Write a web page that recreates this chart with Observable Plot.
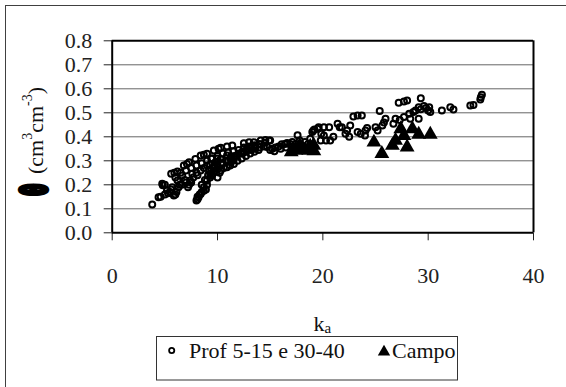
<!DOCTYPE html>
<html>
<head>
<meta charset="utf-8">
<script src="https://cdn.jsdelivr.net/npm/d3@7"></script>
<script src="https://cdn.jsdelivr.net/npm/@observablehq/plot@0.6"></script>
<style>
  html, body { margin: 0; padding: 0; background: white; }
  #chart { width: 566px; height: 387px; }
</style>
</head>
<body>
<div id="chart"></div>
<script>
// Series "Prof 5-15 e 30-40" (open circles): ka and theta values
const profK = [
  3.8, 4.4, 4.6, 4.75, 4.8, 5.0, 5.6, 5.9, 6.2, 6.8, 7.1, 7.3, 7.9, 8.4, 8.7, 9.0, 9.65, 10.1, 10.3, 10.9, 11.4, 12.5, 13.0, 13.45, 14.1, 14.55, 14.9, 14.7,
  5.2, 5.5, 5.7, 5.85, 6.0, 6.2, 6.4, 6.65, 6.9, 7.2, 7.4, 7.6, 7.5, 8.0, 8.4, 8.7, 9.0, 9.3, 9.8, 10.3, 10.9, 11.3, 11.55, 11.8, 12.2, 12.5, 12.8, 13.2, 13.6, 14.0, 14.4,
  8.0, 8.1, 8.2, 8.3, 8.4, 8.7, 8.7, 9.0, 9.0, 9.3, 9.3, 9.65, 9.65, 10.0, 10.3, 10.6, 10.9, 11.2, 11.55, 11.9, 12.3, 12.7, 13.1, 13.5, 13.9,
  8.1, 8.5, 8.9, 9.5, 10.0, 10.2, 10.5, 11.0, 11.3, 9.4, 10.0,
  6.0, 6.5, 7.0, 7.5, 8.0, 8.5, 9.0, 9.5, 10.0, 10.5, 11.0, 11.5, 12.0, 12.5, 13.0, 13.5, 14.0, 14.5,
  9.2, 9.6, 10.0, 10.4, 10.8, 11.2, 11.6, 12.0, 12.4, 12.8, 13.2, 13.6,
  8.5, 8.8, 9.1, 9.4, 9.7, 10.0,
  5.0, 5.3, 5.6, 6.3, 6.6, 7.0, 7.3, 7.7, 8.1, 6.1,
  15.0, 15.2, 15.5, 15.8, 16.1, 16.4, 16.6, 16.9, 17.1, 17.4, 17.6, 17.8, 18.0, 18.3, 18.6, 18.8, 19.0, 19.1, 19.2, 19.5, 19.6, 19.8, 19.85, 20.1, 20.1, 20.3, 20.6, 20.7, 21.0, 21.4, 21.6, 21.8, 22.15, 22.3, 22.5, 22.6, 22.9, 23.3, 23.7, 23.3, 23.6, 24.05, 24.2, 24.0,
  15.0, 15.4, 16.0, 16.5, 17.0, 18.0, 18.5,
  25.0, 25.2, 25.4, 25.65, 25.8, 25.95, 26.7, 26.9, 27.2, 27.7, 28.0, 29.3, 27.7, 28.2, 28.6, 29.1, 29.6, 30.1, 30.2, 29.1, 28.3, 27.3, 31.3, 32.1, 32.4, 34.0, 34.3, 34.95, 35.0, 35.1,
  28.8, 29.3, 29.8, 30.0
];
const profTheta = [
  0.118, 0.148, 0.15, 0.204, 0.198, 0.2, 0.246, 0.25, 0.255, 0.28, 0.287, 0.294, 0.308, 0.322, 0.325, 0.329, 0.343, 0.35, 0.354, 0.36, 0.364, 0.373, 0.377, 0.377, 0.385, 0.387, 0.385, 0.357,
  0.176, 0.17, 0.19, 0.155, 0.16, 0.218, 0.2, 0.239, 0.22, 0.19, 0.218, 0.246, 0.21, 0.25, 0.26, 0.27, 0.28, 0.285, 0.294, 0.308, 0.322, 0.318, 0.308, 0.32, 0.329, 0.335, 0.343, 0.345, 0.35, 0.355, 0.36,
  0.135, 0.14, 0.148, 0.16, 0.162, 0.175, 0.19, 0.2, 0.218, 0.23, 0.246, 0.255, 0.273, 0.265, 0.26, 0.27, 0.273, 0.28, 0.287, 0.3, 0.31, 0.32, 0.33, 0.338, 0.345,
  0.15, 0.17, 0.18, 0.24, 0.23, 0.25, 0.29, 0.3, 0.295, 0.31, 0.31,
  0.23, 0.25, 0.26, 0.27, 0.28, 0.29, 0.30, 0.31, 0.32, 0.33, 0.335, 0.34, 0.345, 0.355, 0.36, 0.365, 0.37, 0.375,
  0.26, 0.27, 0.28, 0.29, 0.30, 0.31, 0.32, 0.33, 0.34, 0.35, 0.355, 0.36,
  0.2, 0.22, 0.24, 0.26, 0.28, 0.295,
  0.16, 0.165, 0.18, 0.19, 0.2, 0.21, 0.2, 0.23, 0.24, 0.17,
  0.385, 0.35, 0.355, 0.36, 0.369, 0.37, 0.374, 0.37, 0.378, 0.37, 0.406, 0.385, 0.365, 0.378, 0.37, 0.392, 0.42, 0.426, 0.43, 0.434, 0.44, 0.385, 0.413, 0.44, 0.405, 0.385, 0.44, 0.385, 0.40, 0.454, 0.44, 0.44, 0.413, 0.426, 0.40, 0.447, 0.485, 0.489, 0.489, 0.42, 0.413, 0.426, 0.437, 0.405,
  0.345, 0.34, 0.35, 0.355, 0.36, 0.35, 0.355,
  0.44, 0.426, 0.507, 0.447, 0.46, 0.475, 0.454, 0.475, 0.542, 0.547, 0.551, 0.561, 0.482, 0.496, 0.503, 0.523, 0.528, 0.523, 0.503, 0.475, 0.475, 0.47, 0.51, 0.523, 0.514, 0.53, 0.533, 0.555, 0.565, 0.575,
  0.51, 0.515, 0.52, 0.51
];
// Series "Campo" (filled triangles)
const campoK = [17.0, 17.45, 17.8, 18.1, 18.65, 18.8, 19.15, 19.15, 24.85, 25.6, 26.6, 26.9, 27.4, 27.7, 28.0, 28.5, 29.1, 30.2];
const campoTheta = [0.337, 0.343, 0.364, 0.35, 0.343, 0.36, 0.341, 0.364, 0.377, 0.33, 0.364, 0.385, 0.433, 0.405, 0.357, 0.433, 0.41, 0.41];

const xTicks = [0, 10, 20, 30, 40];
const yTicks = [0, 0.1, 0.2, 0.3, 0.4, 0.5, 0.6, 0.7, 0.8];
const gridValues = [0.1, 0.2, 0.3, 0.4, 0.5, 0.6, 0.7];
const seriesNames = ["Prof 5-15 e 30-40", "Campo"];
const xLabelMain = "k";
const xLabelSub = "a";

const prof = profK.map((k, i) => ({k, t: profTheta[i]}));
const campo = campoK.map((k, i) => ({k, t: campoTheta[i]}));

const FONT = "Liberation Serif";

const svg = Plot.plot({
  width: 566,
  height: 387,
  marginLeft: 111.7,
  marginRight: 33,
  marginTop: 40.3,
  marginBottom: 154.7,
  style: {fontFamily: FONT, fontSize: "22px", background: "white", color: "#222", overflow: "visible"},
  x: {domain: [0, 40], label: null},
  y: {domain: [0, 0.8], label: null},
  marks: [
    Plot.ruleY(gridValues, {stroke: "#666", strokeWidth: 1}),
    Plot.axisY({ticks: yTicks, tickFormat: d3.format(".1f"), tickSize: 8, tickPadding: 12, label: null, stroke: "#222", fill: "#222"}),
    Plot.axisX({ticks: xTicks, tickSize: 8, tickPadding: 27, label: null, stroke: "#222", fill: "#222"}),
    Plot.ruleY([0.8], {stroke: "black", strokeWidth: 2}),
    Plot.ruleX([40], {stroke: "black", strokeWidth: 2}),
    Plot.ruleX([0], {stroke: "black", strokeWidth: 2}),
    Plot.ruleY([0], {stroke: "black", strokeWidth: 2}),
    Plot.dot(prof, {x: "k", y: "t", r: 3, stroke: "black", strokeWidth: 2, fill: "none"}),
    Plot.dot(campo, {x: "k", y: "t", symbol: "triangle", r: 5.5, fill: "black", stroke: "none"})
  ]
});

const s = d3.select(svg);

// outer frame
s.insert("rect", ":first-child")
  .attr("x", 5.5).attr("y", 5.5).attr("width", 620).attr("height", 420)
  .attr("fill", "none").attr("stroke", "#404040").attr("stroke-width", 1);

// y axis label (rotated): theta symbol (rendered as a heavy block) + units
s.append("text")
  .attr("transform", "translate(46,195) rotate(-90) scale(1,1.6)")
  .attr("text-anchor", "start")
  .style("font-family", FONT).attr("font-size", 22).attr("fill", "black")
  .attr("stroke", "black").attr("stroke-width", 4).attr("stroke-linejoin", "miter")
  .text("θ");
const yl = s.append("text")
  .attr("transform", "translate(43,174) rotate(-90)")
  .attr("text-anchor", "start")
  .style("font-family", FONT).attr("font-size", 22).attr("fill", "#111");
yl.append("tspan").text("(cm");
yl.append("tspan").text("3").attr("font-size", 14).attr("dy", -11);
yl.append("tspan").text("cm").attr("dy", 11);
yl.append("tspan").text("-3").attr("font-size", 14).attr("dy", -11);
yl.append("tspan").text(")").attr("dy", 11);

// x axis label
const xl = s.append("text")
  .attr("x", 322.4).attr("y", 331).attr("text-anchor", "middle")
  .style("font-family", FONT).attr("font-size", 22).attr("fill", "#111");
xl.append("tspan").text(xLabelMain);
xl.append("tspan").text(xLabelSub).attr("font-size", 15).attr("dy", 2);

// legend
const lg = s.append("g").style("font-family", FONT).attr("font-size", 22).attr("fill", "#111").attr("text-anchor", "start");
lg.append("rect").attr("x", 156.5).attr("y", 336.5).attr("width", 301).attr("height", 43.5)
  .attr("fill", "white").attr("stroke", "#333").attr("stroke-width", 1);
lg.append("circle").attr("cx", 171.7).attr("cy", 350.5).attr("r", 2.6)
  .attr("fill", "none").attr("stroke", "black").attr("stroke-width", 1.8);
lg.append("text").attr("x", 189).attr("y", 358).text(seriesNames[0]);
lg.append("path").attr("transform", "translate(384,352)")
  .attr("d", d3.symbol(d3.symbolTriangle, Math.PI * 4.6 * 4.6)()).attr("fill", "black");
lg.append("text").attr("x", 392).attr("y", 358).text(seriesNames[1]);

document.getElementById("chart").appendChild(svg);
</script>
</body>
</html>
